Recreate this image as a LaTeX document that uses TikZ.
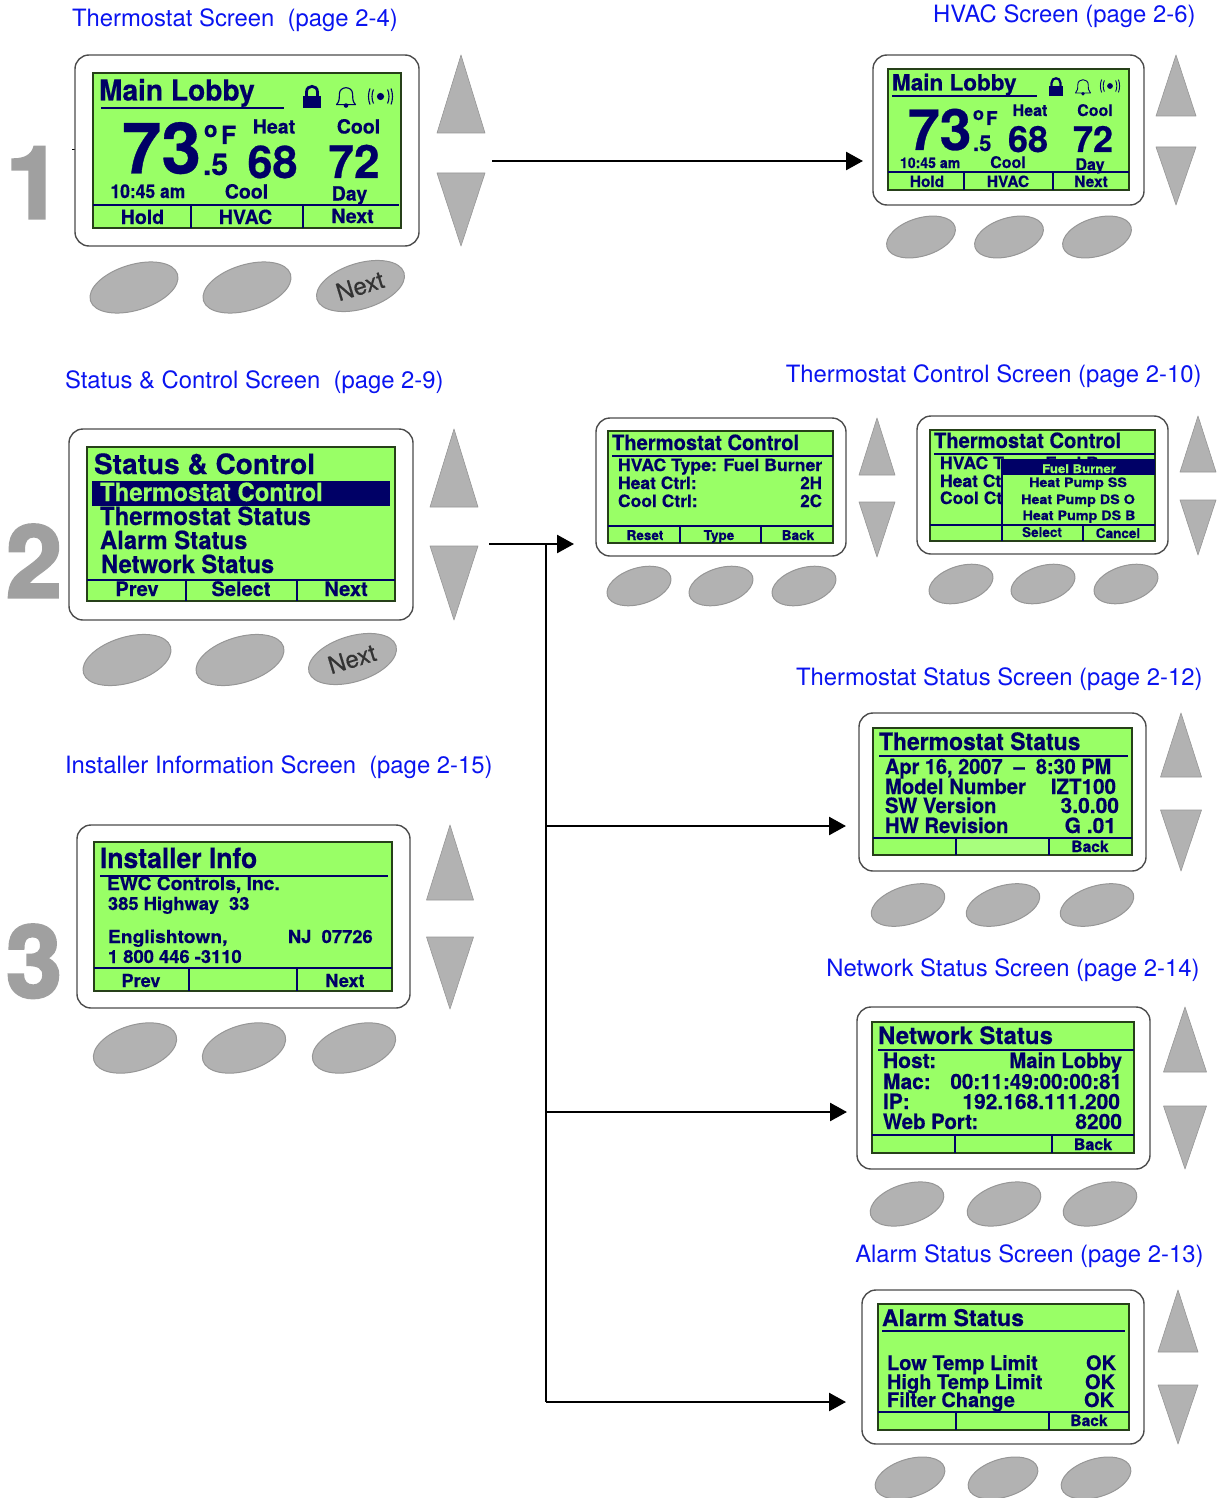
\documentclass[tikz,border=0pt]{standalone}
\usepackage{fontspec}
\usepackage{graphicx}
\setmainfont[BoldFeatures={FakeBold=0.5}]{TeX Gyre Heros}
\newfontfamily\heavyfont[BoldFeatures={FakeBold=3}]{TeX Gyre Heros}
\newfontfamily\keyfont[FakeBold=0.5]{TeX Gyre Heros}
\usetikzlibrary{arrows.meta,shapes.geometric}
\definecolor{lcdgreen}{HTML}{99FF66}
\definecolor{lcdnavy}{HTML}{000066}
\definecolor{keygray}{HTML}{B2B2B2}
\definecolor{keyedge}{HTML}{969696}
\definecolor{titleblue}{HTML}{0A14F0}
\definecolor{numgray}{HTML}{A0A0A0}
\tikzset{
  lcd/.style={inner sep=0pt,outer sep=0pt,text=lcdnavy},
  titletext/.style={inner sep=0pt,outer sep=0pt,text=titleblue,font=\fontsize{23.85}{24}\selectfont},
  bignum/.style={inner sep=0pt,outer sep=0pt,text=numgray,font=\heavyfont\fontsize{100}{100}\selectfont\bfseries},
  devbox/.style={draw=black!70,line width=1.4pt,fill=white,rounded corners=14pt},
  screenbox/.style={draw=black!75!lcdgreen,line width=1.6pt,fill=lcdgreen},
  lcdline/.style={draw=lcdnavy,line width=1.5pt},
  tri/.style={fill=keygray,draw=keyedge,line width=0.6pt,line join=round},
  keybtn/.style={ellipse,draw=keyedge,fill=keygray,line width=1pt,inner sep=0pt,outer sep=0pt},
  keylabel/.style={rotate=17,inner sep=0pt,text=black!80,font=\keyfont\fontsize{24}{24}\selectfont},
  conn/.style={line width=2.6pt,-{Triangle[length=17pt,width=18pt]}},
  trunk/.style={line width=2.6pt},
}
\newcount\lblc
\newcommand{\TL}[5][1]{\global\advance\lblc by 1 \node[lcd,anchor=base west] (lbl\the\lblc) at (#2,#3) {\scalebox{#1}[1]{\fontsize{#4}{#4}\selectfont\bfseries #5}};}
\newcommand{\TR}[5][1]{\global\advance\lblc by 1 \node[lcd,anchor=base east] (lbl\the\lblc) at (#2,#3) {\scalebox{#1}[1]{\fontsize{#4}{#4}\selectfont\bfseries #5}};}
\newcommand{\TC}[5][1]{\global\advance\lblc by 1 \node[lcd,anchor=base] (lbl\the\lblc) at (#2,#3) {\scalebox{#1}[1]{\fontsize{#4}{#4}\selectfont\bfseries #5}};}
\newcommand{\DEV}[4]{\draw[devbox] (#1,#2) rectangle (#3,#4);}
\newcommand{\SCR}[4]{\draw[screenbox] (#1,#2) rectangle (#3,#4);}
\newcommand{\TRIS}[6]{\draw[tri] (#1,#3) -- (#1-#2,#4) -- (#1+#2,#4) -- cycle;
  \draw[tri] (#1,#6) -- (#1-#2,#5) -- (#1+#2,#5) -- cycle;}
\newcommand{\KEY}[5]{\node[keybtn,rotate=17,minimum width=#4*2pt,minimum height=#5*1.9pt] (#1) at (#2,#3) {};}
\newcommand{\LOCKICON}[3]{\begin{scope}[shift={(#1,#2)},scale=#3]
  \fill[lcdnavy] (-9,0) rectangle (9,12);
  \draw[lcdnavy,line width=#3*2.8pt] (-5.5,1) -- (-5.5,-4) .. controls (-5.5,-11.5) and (5.5,-11.5) .. (5.5,-4) -- (5.5,1);
  \end{scope}}
\newcommand{\BELLICON}[3]{\begin{scope}[shift={(#1,#2)},scale=#3]
  \draw[lcdnavy,line width=#3*1.2pt,line join=round] (-10,8) .. controls (-7,5) and (-7,2) .. (-7,-3) .. controls (-7,-12) and (7,-12) .. (7,-3) .. controls (7,2) and (7,5) .. (10,8) -- cycle;
  \fill[lcdnavy] (0,9) circle (2.4);
  \end{scope}}
\newcommand{\SIGICON}[3]{\begin{scope}[shift={(#1,#2)},scale=#3,line width=#3*1.1pt,draw=lcdnavy]
  \fill[lcdnavy] (0,0) circle (3.6);
  \draw (-7,-7) .. controls (-9,-3) and (-9,3) .. (-7,7);
  \draw (-10.5,-8) .. controls (-12.5,-3) and (-12.5,3) .. (-10.5,8);
  \draw (7,-7) .. controls (9,-3) and (9,3) .. (7,7);
  \draw (10.5,-8) .. controls (12.5,-3) and (12.5,3) .. (10.5,8);
  \end{scope}}
\begin{document}
\begin{tikzpicture}[x=1pt,y=-1pt]
\useasboundingbox (0,0) rectangle (1225,1498);
%% titles
\node[titletext,anchor=base west] (t1) at (72,26.5) {Thermostat Screen\ \ (page 2-4)};
\node[titletext,anchor=base east] (t2) at (1195.5,23) {HVAC Screen (page 2-6)};
\node[titletext,anchor=base west] (t3) at (65,388) {Status \& Control Screen\ \ (page 2-9)};
\node[titletext,anchor=base east] (t4) at (1201.5,382) {Thermostat Control Screen (page 2-10)};
\node[titletext,anchor=base west] (t5) at (65,773) {Installer Information Screen\ \ (page 2-15)};
\node[titletext,anchor=base east] (t6) at (1202.5,685) {Thermostat Status Screen (page 2-12)};
\node[titletext,anchor=base east] (t7) at (1199.5,976) {Network Status Screen (page 2-14)};
\node[titletext,anchor=base east] (t8) at (1203.5,1262) {Alarm Status Screen (page 2-13)};
%% big numerals
\node[bignum,anchor=base] (n1) at (34,218) {1};
\node[bignum,anchor=base] (n2) at (34,597) {2};
\node[bignum,anchor=base] (n3) at (34,997) {3};
%% --- device 1
\draw[line width=1pt] (72,150) -- (75,150);
\DEV{75}{55}{419}{246}\SCR{93}{73}{401}{228}
\TRIS{461}{24}{55}{133}{173}{246}
\KEY{k1a}{134}{287.5}{45.5}{24}\KEY{k1b}{247}{287.5}{45.5}{24}\KEY{k1c}{360.5}{286}{45.5}{24}
\node[keylabel] (k1t) at (360,286) {Next};
\TL[0.97]{99}{100.5}{29}{Main Lobby}
\draw[lcdline] (101,108) -- (284,108);
\LOCKICON{312}{96}{1}\BELLICON{346}{97}{0.95}\SIGICON{380.5}{96.5}{1}
\TL{122}{173.5}{71}{73}
\TL{204}{137}{22}{o}\TL{221}{144}{25}{F}
\TL{203}{175}{30}{.5}
\TC{274}{133.5}{19.5}{Heat}\TC{358.5}{133.5}{19.5}{Cool}
\TC{272.5}{178}{45}{68}\TC{354}{178}{46}{72}
\TL[0.92]{110.5}{198}{19}{10:45 am}
\TC{246.5}{198.5}{19.5}{Cool}\TC{349.5}{200.5}{19.5}{Day}
\draw[lcdline] (93,205) -- (399,205) (191,205) -- (191,228) (303,205) -- (303,228);
\TC{142.5}{224}{19.5}{Hold}\TC{245.5}{224}{19.5}{HVAC}\TC{352.5}{223}{19.5}{Next}
%% --- HVAC
\DEV{873}{55}{1144}{205}\SCR{888}{69}{1129}{190}
\TRIS{1176}{20}{55}{116}{147}{205}
\KEY{k2a}{921}{237}{35.5}{20}\KEY{k2b}{1009}{237}{35.5}{20}\KEY{k2c}{1097}{237}{35.5}{20}
\TL{892}{90.5}{22.5}{Main Lobby}
\draw[lcdline] (892,96) -- (1037,96);
\LOCKICON{1056}{86}{0.8}\BELLICON{1083}{87}{0.75}\SIGICON{1110}{86}{0.8}
\TL{908}{150}{57}{73}
\TL{973}{120}{18}{o}\TL{986}{125}{19}{F}
\TL{973}{151}{22}{.5}
\TC{1030}{116}{16}{Heat}\TC{1095}{116}{16}{Cool}
\TC{1028}{152}{36}{68}\TC{1093}{152}{36}{72}
\TL[0.97]{900}{168}{14.5}{10:45 am}
\TC{1008}{168}{16}{Cool}\TC{1090}{170}{16}{Day}
\draw[lcdline] (888,172) -- (1129,172) (964,172) -- (964,190) (1053,172) -- (1053,190);
\TC{927}{187}{15.5}{Hold}\TC{1008}{187}{15.5}{HVAC}\TC{1091}{187}{15.5}{Next}
%% --- Status & Control
\DEV{69}{429}{413}{620}\SCR{87}{447}{395}{601}
\TRIS{454}{24}{429}{507}{546}{620}
\KEY{k3a}{127}{660}{45.5}{24}\KEY{k3b}{240}{660}{45.5}{24}\KEY{k3c}{352.5}{659}{45.5}{24}
\node[keylabel] (k3t) at (352,659) {Next};
\TL{94}{474}{28}{Status \& Control}
\fill[lcdnavy] (92,481) rectangle (390,506);
\TL[0.96]{100}{501}{25}{\textcolor{lcdgreen}{Thermostat Control}}
\TL[0.96]{100}{525}{25}{Thermostat Status}
\TL[0.955]{100}{549}{25}{Alarm Status}
\TL[0.95]{101}{573}{25}{Network Status}
\draw[lcdline] (87,580) -- (395,580) (186,580) -- (186,601) (297,580) -- (297,601);
\TC{137}{596}{20}{Prev}\TC{241}{596}{20}{Select}\TC{346}{596}{20}{Next}
%% --- Thermostat Control 1
\DEV{596}{418}{846}{556}\SCR{608}{431}{833}{543}
\TRIS{877}{18}{418}{475}{502}{557}
\KEY{k4a}{639}{586}{33}{19}\KEY{k4b}{721}{586}{33}{19}\KEY{k4c}{804}{586}{33}{19}
\TL[0.96]{612}{450}{21}{Thermostat Control}
\draw[lcdline] (612,456) -- (833,456);
\TL[1.04]{618}{471}{17}{HVAC Type: Fuel Burner}
\TL[1.03]{618}{489}{17}{Heat Ctrl:}\TR{822}{489}{17}{2H}
\TL[1.03]{618}{507}{17}{Cool Ctrl:}\TR{822}{507}{17}{2C}
\draw[lcdline] (608,526) -- (833,526) (680,526) -- (680,543) (761,526) -- (761,543);
\TC{645}{540}{13.5}{Reset}\TC{719}{540}{13.5}{Type}\TC{798}{540}{13.5}{Back}
%% --- Thermostat Control 2
\DEV{917}{416}{1168}{554}\SCR{930}{430}{1155}{541}
\TRIS{1198}{18}{416}{472}{500}{555}
\KEY{k5a}{961}{584}{33}{19}\KEY{k5b}{1043}{584}{33}{19}\KEY{k5c}{1126}{584}{33}{19}
\TL[0.96]{934}{448}{21}{Thermostat Control}
\draw[lcdline] (934,454) -- (1155,454);
\TL[1.04]{940}{469}{17}{HVAC Type: Fuel Burner}
\TL[1.03]{940}{487}{17}{Heat Ct}
\TL[1.03]{940}{504}{17}{Cool Ct}
\fill[lcdgreen] (1002,459) rectangle (1154,525);
\fill[lcdnavy] (1002,459) rectangle (1155,475);
\TC[1.1]{1079}{473}{12}{\textcolor{lcdgreen}{Fuel Burner}}
\TC[1.1]{1078}{487}{13}{Heat Pump SS}
\TC[1.1]{1078}{504}{13}{Heat Pump DS O}
\TC[1.1]{1079}{520}{13}{Heat Pump DS B}
\draw[lcdline] (930,525) -- (1155,525) (1002,459) -- (1002,541) (1083,525) -- (1083,541);
\TC{1042}{537}{13.5}{Select}\TC{1118}{538}{13.5}{Cancel}
%% --- Thermostat Status
\DEV{859}{713}{1146}{871}\SCR{873}{728}{1132}{855}
\TRIS{1181}{20.5}{713}{777}{810}{871}
\KEY{k6a}{908}{905}{38}{20}\KEY{k6b}{1003}{905}{38}{20}\KEY{k6c}{1097}{905}{38}{20}
\TL[0.955]{879}{750}{24}{Thermostat Status}
\draw[lcdline] (879,756) -- (1128,756);
\TL[0.95]{885}{774}{21}{Apr 16, 2007\ \ –\ \ 8:30 PM}
\TL[0.965]{885}{794}{21}{Model Number}\TR[0.98]{1116}{794}{21}{IZT100}
\TL[0.965]{885}{813}{21}{SW Version}\TR{1119}{813}{21}{3.0.00}
\TL[0.965]{885}{833}{21}{HW Revision}\TR{1116}{833}{21}{G .01}
\fill[lcdgreen!85!white] (957,839) rectangle (1048,854);
\draw[lcdline] (873,838) -- (1132,838) (956,838) -- (956,855) (1049,838) -- (1049,855);
\TC{1090}{852}{15.5}{Back}
%% --- Network Status
\DEV{857}{1007}{1150}{1169}\SCR{872}{1022}{1134}{1153}
\TRIS{1185}{21.5}{1007}{1072}{1106}{1169}
\KEY{k7a}{907}{1204}{38}{21}\KEY{k7b}{1004}{1204}{38}{21}\KEY{k7c}{1100}{1204}{38}{21}
\TL{878}{1044}{24}{Network Status}
\draw[lcdline] (878,1050) -- (1134,1050);
\TL{883}{1068}{21}{Host:}\TR[0.97]{1122}{1068}{21}{Main Lobby}
\TL{883}{1089}{21}{Mac:}\TR[0.98]{1122}{1089}{21}{00:11:49:00:00:81}
\TL{883}{1109}{21}{IP:}\TR{1120}{1109}{21}{192.168.111.200}
\TL[0.97]{883}{1129}{21}{Web Port:}\TR{1122}{1129}{21}{8200}
\draw[lcdline] (872,1135) -- (1134,1135) (955,1135) -- (955,1153) (1052,1135) -- (1052,1153);
\TC{1093}{1150}{16}{Back}
%% --- Alarm Status
\DEV{862}{1290}{1144}{1444}\SCR{878}{1304}{1129}{1430}
\TRIS{1178}{20}{1290}{1352}{1385}{1444}
\KEY{k8a}{910}{1478}{36}{20}\KEY{k8b}{1003}{1478}{36}{20}\KEY{k8c}{1096}{1478}{36}{20}
\TL{882}{1326}{23}{Alarm Status}
\draw[lcdline] (882,1331) -- (1125,1331);
\TL{887}{1370}{20}{Low Temp Limit}\TR{1116}{1370}{20}{OK}
\TL{887}{1389}{20}{High Temp Limit}\TR{1115}{1389}{20}{OK}
\TL{887}{1407}{20}{Filter Change}\TR{1114}{1407}{20}{OK}
\draw[lcdline] (878,1412) -- (1129,1412) (956,1412) -- (956,1430) (1049,1412) -- (1049,1430);
\TC{1089}{1426}{15.5}{Back}
%% --- Installer Info
\DEV{77}{825}{410}{1008}\SCR{94}{842}{392}{991}
\TRIS{450}{23.5}{825}{900}{937}{1009}
\KEY{k9a}{135}{1048}{43}{24}\KEY{k9b}{244}{1048}{43}{24}\KEY{k9c}{354}{1048}{43}{24}
\TL[0.945]{100}{868}{28}{Installer Info}
\draw[lcdline] (100,876) -- (388,876);
\TL[1.04]{107}{890}{18.5}{EWC Controls, Inc.}
\TL[1.02]{108}{910}{18}{385 Highway\ \ 33}
\TL[1.07]{108}{943}{18}{Englishtown,}
\TL[1.02]{288}{943}{18}{NJ\ \ 07726}
\TL[1.02]{108}{963}{18}{1 800 446 -3110}
\draw[lcdline] (94,968) -- (392,968) (189,968) -- (189,991) (297,968) -- (297,991);
\TC{141}{987}{18}{Prev}\TC{345}{987}{18}{Next}
%% --- connectors
\coordinate (a1s) at (492,161); \coordinate (a1e) at (863,161);
\coordinate (a2s) at (489,544); \coordinate (a2e) at (574,544);
\coordinate (jt) at (546,544); \coordinate (j3) at (546,826); \coordinate (j4) at (546,1112); \coordinate (j5) at (546,1402);
\coordinate (a3e) at (846,826); \coordinate (a4e) at (847,1112); \coordinate (a5e) at (846,1402);
\draw[conn] (a1s) -- (a1e);
\draw[conn] (a2s) -- (a2e);
\draw[trunk] (jt) -- (j5);
\draw[conn] (j3) -- (a3e);
\draw[conn] (j4) -- (a4e);
\draw[conn] (j5) -- (a5e);
\end{tikzpicture}
\end{document}
